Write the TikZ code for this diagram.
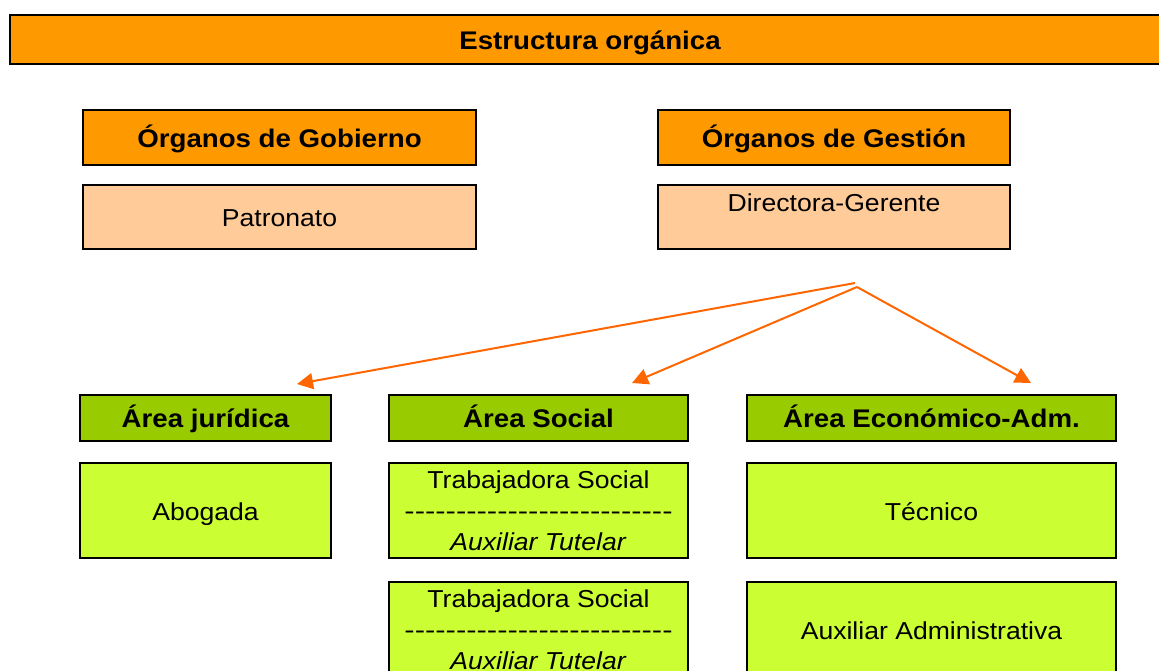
\documentclass[tikz,border=0pt]{standalone}
\usepackage{fontspec}
\usepackage{graphicx}
\setmainfont{Liberation Sans}[FakeStretch=1.085]
\usetikzlibrary{arrows.meta}
\definecolor{orgorange}{HTML}{FF9900}
\definecolor{orgpeach}{HTML}{FFCC99}
\definecolor{orggreen}{HTML}{99CC00}
\definecolor{orglime}{HTML}{CCFF33}
\definecolor{orgarrow}{HTML}{FF6600}
\newcommand{\dashrow}{\scalebox{1.165}[1]{\foreach \i in {1,...,26}{-}}}
\tikzset{
  box/.style={draw=black, line width=2.5pt, rectangle, inner sep=0pt, align=center,
    font=\fontsize{24.5}{31}\selectfont},
  oneline/.style={text height=19pt, text depth=0pt},
  headbox/.style={box, oneline, font=\fontsize{25.5}{30}\selectfont\bfseries},
  link/.style={draw=orgarrow, line width=2pt, -{Triangle[length=16pt,width=16pt]}},
}
\begin{document}
\begin{tikzpicture}[x=1pt,y=-1pt]
\useasboundingbox (0,0) rectangle (1159,670);
\clip (0,0) rectangle (1159,670);
% title
\node[headbox, fill=orgorange, minimum width=1160pt, minimum height=49pt] (title) at (590,39.5) {Estructura orgánica};
% top level
\node[headbox, fill=orgorange, minimum width=393pt, minimum height=55pt] (gob) at (279.5,137.5) {Órganos de Gobierno};
\node[box, oneline, fill=orgpeach, minimum width=393pt, minimum height=64pt] (pat) at (279.5,217) {Patronato};
\node[headbox, fill=orgorange, minimum width=352pt, minimum height=55pt] (ges) at (834,137.5) {Órganos de Gestión};
\node[box, fill=orgpeach, minimum width=352pt, minimum height=64pt, font=\fontsize{24.5}{28}\selectfont] (dir) at (834,217) {Directora-Gerente\\\phantom{X}};
% areas
\node[headbox, fill=orggreen, minimum width=251pt, minimum height=46pt] (jur) at (205.5,418) {Área jurídica};
\node[box, oneline, fill=orglime, minimum width=251pt, minimum height=95pt] (abo) at (205.5,510.5) {Abogada};
\node[headbox, fill=orggreen, minimum width=299pt, minimum height=46pt] (soc) at (538.5,418) {Área Social};
\node[box, fill=orglime, minimum width=299pt, minimum height=95pt] (ts1) at (538.5,510.5) {Trabajadora Social\\\dashrow\\\textit{Auxiliar Tutelar}};
\node[box, fill=orglime, minimum width=299pt, minimum height=95pt] (ts2) at (538.5,629.5) {Trabajadora Social\\\dashrow\\\textit{Auxiliar Tutelar}};
\node[headbox, fill=orggreen, minimum width=369pt, minimum height=46pt] (eco) at (931.5,418) {Área Económico-Adm.};
\node[box, oneline, fill=orglime, minimum width=369pt, minimum height=95pt] (tec) at (931.5,510.5) {Técnico};
\node[box, oneline, fill=orglime, minimum width=369pt, minimum height=95pt] (aux) at (931.5,629.5) {Auxiliar Administrativa};
% connectors
\coordinate (o1) at (855,283);
\coordinate (o2) at (857,287);
\coordinate (t1) at (297,384);
\coordinate (t2) at (632,383);
\coordinate (t3) at (1031,383);
\draw[link] (o1) -- (t1);
\draw[link] (o2) -- (t2);
\draw[link] (o2) -- (t3);
\end{tikzpicture}
\end{document}
